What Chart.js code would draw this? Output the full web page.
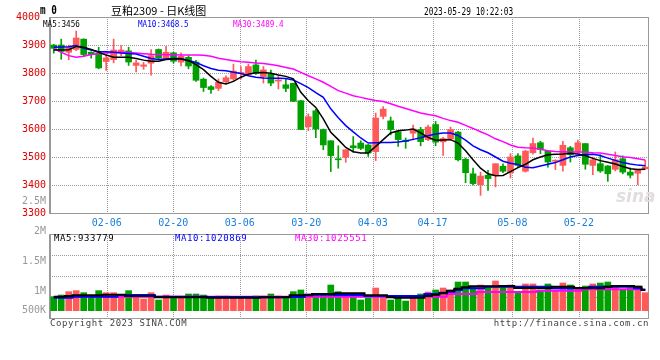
<!DOCTYPE html>
<html>
<head>
<meta charset="utf-8">
<script src="https://cdn.jsdelivr.net/npm/chart.js@4.4.0/dist/chart.umd.min.js"></script>
<style>
body{margin:0;background:#fff;width:660px;height:360px;position:relative;overflow:hidden;font-family:"DejaVu Sans Mono",monospace;}
canvas{position:absolute;left:0;}
#kc{top:0}
#vc{top:190px}
.t{position:absolute;white-space:nowrap;font-size:10px;line-height:12px;}
.n{transform-origin:0 0;}
</style>
</head>
<body>
<canvas id="kc" width="660" height="230"></canvas>
<canvas id="vc" width="660" height="170"></canvas>

<div class="t n" style="left:40px;top:3px;font-weight:bold;font-size:13px;line-height:14px;transform:scaleX(0.72)">m 0</div>
<div class="t" style="left:111px;top:3px;font-size:11px;line-height:14px;font-family:'Noto Sans CJK SC'">豆粕2309 - 日K线图</div>
<div class="t n" style="left:424px;top:6px;transform:scaleX(0.78)">2023-05-29 10:22:03</div>

<div class="t n" style="left:43px;top:18px;font-size:9px;transform:scaleX(0.85)">MA5:3456</div>
<div class="t n" style="left:138px;top:18px;font-size:9px;color:#0000ff;transform:scaleX(0.85)">MA10:3468.5</div>
<div class="t n" style="left:233px;top:18px;font-size:9px;color:#ff00ff;transform:scaleX(0.85)">MA30:3489.4</div>
<div class="t" style="left:616px;top:186px;font:italic bold 17px 'DejaVu Sans';color:#e2dede;">sina</div>

<div class="t" style="left:54px;top:232px;font-size:9px;letter-spacing:0.6px">MA5:933779</div>
<div class="t" style="left:175px;top:232px;font-size:9px;letter-spacing:0.6px;color:#0000ff">MA10:1020869</div>
<div class="t" style="left:295px;top:232px;font-size:9px;letter-spacing:0.6px;color:#ff00ff">MA30:1025551</div>

<div class="t" style="left:50px;top:317px;font-size:9px;letter-spacing:0.55px;color:#444">Copyright 2023 SINA.COM</div>
<div class="t" style="right:11px;top:317px;font-size:9px;letter-spacing:0.55px;color:#444">http://finance.sina.com.cn</div>

<script>
// trading days shown
const dates = [
  '02-01','02-02','02-03','02-06','02-07','02-08','02-09','02-10','02-13','02-14',
  '02-15','02-16','02-17','02-20','02-21','02-22','02-23','02-24','02-27','02-28',
  '03-01','03-02','03-03','03-06','03-07','03-08','03-09','03-10','03-13','03-14',
  '03-15','03-16','03-17','03-20','03-21','03-22','03-23','03-24','03-27','03-28',
  '03-29','03-30','03-31','04-03','04-04','04-06','04-07','04-10','04-11','04-12',
  '04-13','04-14','04-17','04-18','04-19','04-20','04-21','04-24','04-25','04-26',
  '04-27','04-28','05-04','05-05','05-08','05-09','05-10','05-11','05-12','05-15',
  '05-16','05-17','05-18','05-19','05-22','05-23','05-24','05-25','05-26','05-29'
];

const open = [
  3900,3900,3874,3884,3921,3874,3872,3841,3848,3876,
  3879,3827,3824,3835,3884,3851,3872,3839,3856,3839,
  3778,3751,3745,3769,3779,3798,3794,3829,3787,3796,
  3771,3758,3763,3701,3608,3665,3598,3558,3493,3499,
  3540,3550,3543,3519,3645,3629,3590,3560,3585,3598,
  3562,3616,3554,3565,3589,3492,3440,3401,3435,3435,
  3467,3444,3504,3449,3515,3551,3521,3485,3470,3533,
  3520,3548,3470,3476,3468,3456,3494,3446,3442,3458
];
const high = [
  3902,3921,3900,3950,3922,3876,3892,3865,3921,3898,
  3892,3845,3838,3884,3886,3895,3874,3872,3862,3845,
  3782,3755,3779,3790,3832,3823,3832,3846,3823,3810,
  3790,3779,3764,3702,3654,3671,3600,3558,3540,3526,
  3573,3558,3545,3657,3680,3643,3593,3568,3614,3606,
  3614,3627,3570,3607,3592,3496,3460,3446,3452,3476,
  3476,3512,3512,3524,3568,3556,3524,3490,3556,3538,
  3560,3548,3500,3508,3470,3518,3504,3461,3455,3488
];
const low = [
  3871,3849,3847,3880,3858,3853,3815,3809,3836,3862,
  3827,3804,3813,3792,3851,3848,3835,3825,3815,3770,
  3734,3727,3737,3764,3773,3779,3790,3795,3764,3755,
  3743,3733,3698,3598,3594,3569,3526,3448,3460,3481,
  3517,3526,3502,3487,3636,3579,3538,3531,3561,3540,
  3558,3540,3506,3560,3486,3408,3400,3363,3381,3393,
  3444,3425,3464,3446,3510,3512,3464,3455,3449,3482,
  3515,3456,3437,3445,3413,3450,3440,3425,3401,3456
];
const close = [
  3888,3877,3892,3925,3866,3866,3818,3854,3882,3882,
  3839,3836,3829,3862,3854,3874,3842,3860,3825,3774,
  3748,3741,3767,3783,3807,3802,3823,3799,3811,3764,
  3775,3745,3699,3598,3644,3600,3543,3505,3490,3526,
  3533,3531,3514,3639,3671,3598,3562,3555,3600,3555,
  3607,3553,3566,3598,3490,3444,3405,3432,3423,3476,
  3449,3500,3470,3521,3548,3527,3482,3488,3542,3508,
  3551,3474,3490,3450,3440,3490,3446,3435,3455,3464
];

const ma5 = [
  3882,3882,3883,3895,3892,3884,3874,3864,3856,3856,
  3856,3852,3846,3842,3842,3848,3850,3850,3844,3830,
  3812,3788,3767,3761,3770,3785,3796,3801,3802,3799,
  3793,3788,3779,3731,3701,3677,3636,3588,3562,3534,
  3519,3514,3514,3538,3562,3586,3594,3596,3600,3586,
  3570,3560,3561,3562,3550,3522,3490,3460,3440,3433,
  3434,3448,3462,3474,3490,3500,3508,3510,3511,3513,
  3511,3505,3495,3487,3481,3475,3466,3458,3455,3456
];
const ma10 = [
  3892,3893,3894,3898,3888,3882,3876,3876,3874,3871,
  3870,3868,3860,3852,3848,3850,3852,3852,3845,3838,
  3826,3816,3810,3808,3803,3798,3790,3785,3782,3781,
  3781,3780,3775,3762,3748,3730,3713,3672,3640,3612,
  3590,3568,3550,3551,3552,3552,3554,3557,3563,3569,
  3576,3582,3586,3586,3577,3560,3540,3526,3515,3500,
  3485,3478,3473,3463,3462,3468,3474,3480,3490,3500,
  3505,3508,3510,3505,3496,3488,3480,3475,3471,3468.5
];
const ma30 = [
  3888,3874,3862,3856,3860,3866,3869,3871,3873,3874,
  3873,3871,3869,3867,3866,3865,3865,3864,3864,3864,
  3863,3860,3853,3848,3844,3840,3838,3836,3834,3830,
  3826,3820,3814,3802,3790,3779,3767,3752,3737,3728,
  3719,3713,3707,3702,3698,3690,3681,3673,3665,3657,
  3652,3647,3638,3630,3624,3613,3602,3590,3579,3565,
  3555,3543,3535,3533,3532,3528,3522,3520,3519,3518,
  3518,3517,3515,3514,3510,3505,3501,3498,3494,3489.4
];

const volume = [
  906000,933000,989000,1006000,972000,906000,1006000,972000,972000,889000,
  1006000,917000,867000,972000,850000,933000,894000,906000,950000,950000,
  933000,906000,917000,917000,878000,878000,878000,917000,917000,950000,
  917000,906000,989000,1017000,950000,950000,950000,1100000,989000,917000,
  917000,850000,883000,1050000,917000,850000,906000,833000,928000,950000,
  983000,1017000,1050000,1017000,1150000,1150000,1072000,1100000,1072000,1167000,
  1072000,1100000,972000,1117000,1117000,1017000,1117000,1017000,1133000,1100000,
  1056000,1083000,1117000,1133000,1150000,1072000,1017000,1056000,1083000,972000
];
const volMa5 = [
  906000,906000,917000,928000,928000,928000,928000,939000,939000,939000,
  917000,917000,917000,917000,894000,894000,894000,894000,894000,894000,
  894000,889000,889000,889000,889000,889000,889000,889000,894000,894000,
  894000,894000,928000,928000,928000,950000,950000,950000,961000,961000,
  961000,961000,928000,928000,928000,894000,889000,889000,889000,889000,
  917000,939000,961000,1006000,1039000,1061000,1078000,1078000,1078000,1078000,
  1083000,1083000,1050000,1050000,1050000,1050000,1050000,1072000,1072000,1072000,
  1050000,1050000,1050000,1044000,1072000,1083000,1083000,1083000,1072000,1017000
];
const volMa10 = [
  889000,889000,889000,906000,906000,906000,906000,906000,906000,933000,
  933000,933000,933000,933000,906000,906000,906000,906000,906000,906000,
  906000,900000,900000,900000,900000,900000,900000,894000,894000,894000,
  894000,900000,900000,900000,939000,939000,939000,939000,933000,933000,
  933000,933000,917000,917000,917000,917000,917000,917000,917000,917000,
  950000,950000,972000,989000,1017000,1044000,1044000,1044000,1072000,1072000,
  1072000,1072000,1072000,1072000,1072000,1072000,1072000,1044000,1044000,1044000,
  1044000,1044000,1072000,1072000,1072000,1072000,1072000,1072000,1044000,1021000
];
const volMa30 = [
  900000,903000,903000,903000,903000,903000,903000,903000,903000,903000,
  903000,906000,906000,906000,906000,906000,906000,906000,906000,906000,
  906000,906000,906000,906000,906000,906000,906000,906000,906000,906000,
  906000,906000,906000,906000,906000,906000,906000,906000,906000,906000,
  906000,906000,906000,906000,906000,906000,906000,906000,906000,906000,
  906000,906000,906000,950000,950000,950000,950000,983000,983000,983000,
  983000,983000,983000,983000,983000,1006000,1006000,1006000,1006000,1006000,
  1006000,1028000,1028000,1028000,1028000,1028000,1030000,1030000,1030000,1026000
];

const priceTicks = [3300, 3400, 3500, 3600, 3700, 3800, 3900, 4000];
const gridDates = ['02-06', '02-20', '03-06', '03-20', '04-03', '04-17', '05-08', '05-22'];
const volTicks = [2500000, 2000000, 1500000, 1000000, 500000];
const volTickLabels = ['2.5M', '2M', '1.5M', '1M', '500K'];

const UP = '#ff5a5a';
const DOWN = '#00a000';
const GRID = '#999999';
const MONO = 'DejaVu Sans Mono';
const volBase = 672000; // sina draws volume bars from here, not from zero

const colors = open.map((o, i) => (close[i] >= o ? UP : DOWN));

// dotted grid (positions from the scales' own ticks), then the frame
const frame = {
  id: 'frame',
  beforeDatasetsDraw(chart) {
    const { ctx, chartArea: a, scales } = chart;
    const L = Math.round(a.left), R = Math.round(a.right);
    const T = Math.round(a.top), B = Math.round(a.bottom);
    ctx.save();
    ctx.fillStyle = GRID;
    scales.xg.ticks.forEach((t) => {
      const x = Math.round(scales.xg.getPixelForValue(t.value));
      for (let y = T; y < B; y += 2) ctx.fillRect(x, y, 1, 1);
    });
    scales.y.ticks.forEach((t) => {
      const y = Math.round(scales.y.getPixelForValue(t.value));
      for (let x = L; x < R; x += 2) ctx.fillRect(x, y, 1, 1);
    });
    ctx.fillStyle = '#999';
    ctx.fillRect(L, T, R - L, 1);
    ctx.fillRect(L, B, R - L, 1);
    ctx.fillRect(R - 1, T, 1, B - T + 1);
    ctx.fillRect(L - 1, T, 2, B - T + 1);
    ctx.restore();
  }
};

// grid axis: sina spaces date gridlines a little wider than the candles
const gridAxis = (showLabels) => ({
  type: 'linear',
  position: 'bottom',
  min: 0.1,
  max: 78.92,
  afterBuildTicks: (s) => { s.ticks = gridDates.map((d) => ({ value: dates.indexOf(d) })); },
  afterFit: (s) => { s.height = showLabels ? 17 : 0; },
  ticks: {
    display: showLabels,
    autoSkip: false,
    maxRotation: 0,
    padding: 4,
    color: '#1a80d9',
    font: { family: MONO, size: 10 },
    callback: (v) => dates[v]
  },
  grid: { display: false, drawTicks: false },
  border: { display: false }
});

const line = (data, color, extra) => Object.assign({
  type: 'line', data: data, borderColor: color, borderWidth: 1.5,
  pointRadius: 0, tension: 0, xAxisID: 'x', yAxisID: 'y', order: 0
}, extra || {});

new Chart(document.getElementById('kc'), {
  type: 'bar',
  data: {
    labels: dates,
    datasets: [
      line(ma5, '#000000'),
      line(ma10, '#0000ff'),
      line(ma30, '#ff00ff'),
      {
        data: low.map((l, i) => [l, high[i]]),
        backgroundColor: colors, barThickness: 1, grouped: false,
        xAxisID: 'x', yAxisID: 'y', order: 2
      },
      {
        data: open.map((o, i) => [o, close[i]]),
        backgroundColor: colors, barThickness: 6, grouped: false, minBarLength: 1,
        xAxisID: 'x', yAxisID: 'y', order: 1
      }
    ]
  },
  options: {
    responsive: false,
    animation: false,
    events: [],
    layout: { padding: { top: 17, right: 11, left: 0, bottom: 0 } },
    plugins: { legend: { display: false }, tooltip: { enabled: false } },
    scales: {
      x: { display: false, offset: true },
      xg: gridAxis(true),
      y: {
        min: 3300,
        max: 4000,
        afterBuildTicks: (s) => { s.ticks = priceTicks.map((v) => ({ value: v })); },
        afterFit: (s) => { s.width = 50; },
        ticks: {
          padding: 4,
          color: '#e00000',
          font: { family: MONO, size: 10 },
          callback: (v) => (v === 4000 ? v + ' ' : v)
        },
        grid: { display: false, drawTicks: false },
        border: { display: false }
      }
    }
  },
  plugins: [frame]
});

new Chart(document.getElementById('vc'), {
  type: 'bar',
  data: {
    labels: dates,
    datasets: [
      line(volMa5, '#000000', { stepped: 'middle', borderWidth: 2 }),
      line(volMa10, '#0000ff', { stepped: 'middle', borderWidth: 2 }),
      line(volMa30, '#ff00ff', { stepped: 'middle', borderWidth: 2 }),
      {
        data: volume.map((v) => [volBase, v]),
        backgroundColor: colors, barThickness: 6,
        xAxisID: 'x', yAxisID: 'y', order: 1
      }
    ]
  },
  options: {
    responsive: false,
    animation: false,
    events: [],
    layout: { padding: { top: 44, right: 11, left: 0, bottom: 42 } },
    plugins: { legend: { display: false }, tooltip: { enabled: false } },
    scales: {
      x: { display: false, offset: true },
      xg: gridAxis(false),
      y: {
        min: 550000,
        max: 1950000,
        afterFit: (s) => { s.width = 0; },
        ticks: { display: false, stepSize: 350000 },
        grid: { display: false, drawTicks: false },
        border: { display: false }
      },
      yl: {
        position: 'left',
        min: 550000,
        max: 1950000,
        afterBuildTicks: (s) => { s.ticks = volTicks.map((v) => ({ value: Math.max(v, volBase) })); },
        afterFit: (s) => { s.width = 50; },
        ticks: {
          padding: 4,
          color: '#999999',
          font: { family: MONO, size: 10 },
          callback: (v, i) => volTickLabels[i]
        },
        grid: { display: false, drawTicks: false },
        border: { display: false }
      }
    }
  },
  plugins: [frame]
});
</script>
</body>
</html>
